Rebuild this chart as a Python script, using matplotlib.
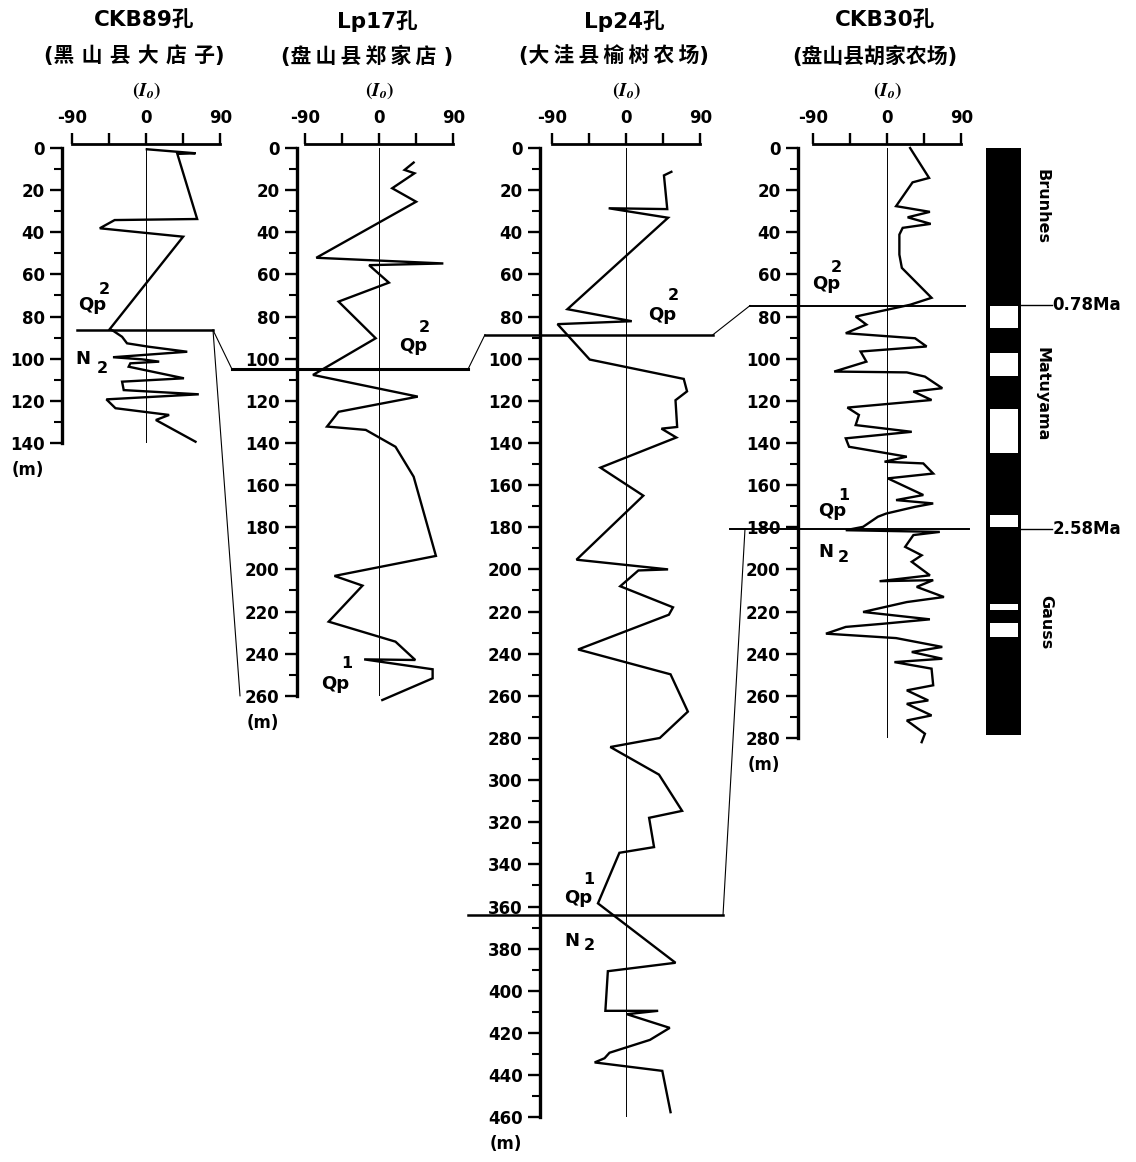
import matplotlib
matplotlib.use("Agg")
import matplotlib.pyplot as plt
from matplotlib.lines import Line2D
from matplotlib.ticker import MultipleLocator

plt.rcParams['font.family'] = ['DejaVu Sans', 'Noto Sans CJK SC']
plt.rcParams['font.weight'] = 'bold'

# ---- data ----
holes = ["CKB89孔", "Lp17孔", "Lp24孔", "CKB30孔"]
places = ["(黑 山 县 大 店 子)", "(盘\u2009山\u2009县\u2009郑\u2009家\u2009店 )",
          "(大\u2009洼\u2009县\u2009榆\u2009树\u2009农\u2009场)", "(盘山县胡家农场)"]
max_depth = [140, 260, 460, 280]

# inclination (deg) against depth (m)
ckb89_depth = [0.6, 2.5, 2.8, 33.7, 34.2, 38.1, 42.1, 86.0, 86.7, 89.6,
               92.7, 94.3, 96.7, 99.3, 100.3, 101.4, 102.2, 103.8, 109.3, 110.9,
               114.9, 116.9, 119.3, 123.5, 126.7, 129.1, 139.4]
ckb89_inc = [1, 60, 38, 62, -38, -56, 45, -44, -40, -29,
             -23, 3, 50, -40, -5, 16, -19, -21, 46, -29,
             -27, 64, -48, -37, 28, 12, 60]

lp17_depth = [6.9, 10.4, 12.0, 19.1, 25.5, 52.1, 54.8, 55.6, 63.9, 72.9,
              90.3, 107.7, 118.0, 125.2, 132.2, 133.8, 141.8, 156.0, 193.6, 203.1,
              207.7, 224.8, 234.3, 243.0, 242.7, 247.4, 251.7, 262.0]
lp17_inc = [42, 31, 43, 16, 45, -76, 78, -12, 12, -49,
            -4, -80, 47, -49, -63, -16, 20, 42, 69, -54,
            -20, -61, 20, 44, -18, 65, 65, 4]

lp24_depth = [11.3, 13.0, 29.0, 28.6, 33.1, 76.5, 82.2, 83.6, 100.4, 109.6,
              115.5, 119.7, 132.4, 133.2, 137.4, 151.7, 165.0, 195.4, 200.0, 200.5,
              208.0, 218.0, 221.5, 238.0, 249.8, 267.5, 280.0, 284.3, 297.4, 314.6,
              317.9, 331.8, 334.5, 358.5, 386.7, 390.7, 409.5, 409.5, 411.1, 417.6,
              423.3, 429.4, 432.0, 434.0, 438.0, 457.6]
lp24_inc = [55, 46, 50, -21, 51, -71, 7, -83, -44, 70,
            74, 60, 62, 43, 61, -31, 21, -60, 51, 15,
            -7, 57, 52, -58, 54, 75, 41, -19, 40, 68,
            28, 34, -8, -34, 60, -22, -25, 39, 1, 53,
            29, -20, -26, -38, 44, 54]

ckb30_depth = [0, 14.2, 16.3, 27.6, 30.3, 32.9, 36.0, 37.9, 41.1, 50.6,
               56.9, 71.1, 74.4, 80.0, 83.8, 87.9, 90.3, 94.2, 96.6, 101.4,
               106.1, 106.5, 108.5, 114.0, 115.6, 119.6, 123.2, 126.7, 131.5, 134.7,
               137.8, 141.8, 146.5, 148.9, 149.7, 154.5, 156.8, 164.7, 167.1, 168.7,
               170.3, 173.5, 175.0, 179.8, 181.4, 182.2, 183.7, 189.3, 193.3, 196.4,
               202.8, 205.6, 205.1, 208.3, 213.1, 215.5, 220.2, 223.7, 225.8, 227.3,
               230.5, 232.6, 236.8, 239.2, 242.4, 244.0, 247.1, 255.0, 257.4, 262.2,
               263.8, 269.3, 271.7, 278.0, 282.0]
ckb30_inc = [28, 51, 31, 11, 52, 25, 53, 19, 15, 15,
             18, 54, 28, -38, -25, -50, 34, 48, -32, -25,
             -64, 24, 46, 67, 32, 54, -48, -34, -38, 30,
             -50, -46, 24, -3, 44, 56, 1, 44, 11, 56,
             34, -1, -11, -29, -50, 64, 32, 22, 42, 30,
             52, -9, 56, 36, 69, 24, -29, 52, -5, -50,
             -74, 11, 67, 30, 67, 9, 54, 56, 24, 50,
             24, 54, 24, 46, 42]

curves = [(ckb89_inc, ckb89_depth), (lp17_inc, lp17_depth),
          (lp24_inc, lp24_depth), (ckb30_inc, ckb30_depth)]

# stratigraphic boundaries (m)
ckb89_qp2_base = 86.4
lp17_qp2_base = 105.0
lp24_qp2_base = 88.6
lp24_qp1_base = 364.2
ckb30_qp2_base = 74.8
ckb30_qp1_base = 180.8

# polarity column of CKB30 (m)
normal_top = [0, 85.6, 108.5, 145.0, 180.5, 219.8, 232.5]
normal_base = [74.5, 96.7, 123.5, 173.8, 216.0, 225.0, 278.6]
reversed_top = [74.5, 96.7, 123.5, 173.8, 216.0, 225.0]
reversed_base = [85.6, 108.5, 145.0, 180.5, 219.8, 232.5]
chrons = ["Brunhes", "Matuyama", "Gauss"]
ages = ["0.78Ma", "2.58Ma"]
age_depth = [74.5, 180.8]

# ---- layout (pixels) ----
W, H = 1136, 1162
DEG = 0.825     # px per degree
MPM = 2.107     # px per metre
TOP = 148
axis_px = [62, 297, 540, 798]
zero_px = [146, 379, 626, 887]

fig = plt.figure(figsize=(W / 100, H / 100), dpi=100)


def put(px, py, s, **kw):
    kw.setdefault('ha', 'center')
    kw.setdefault('va', 'center')
    fig.text(px / W, 1 - py / H, s, **kw)


def inc_at(i, px):
    return (px - zero_px[i]) / DEG


axes = []
for i in range(4):
    left = axis_px[i]
    right = zero_px[i] + 105 * DEG
    bottom = TOP + max_depth[i] * MPM
    ax = fig.add_axes([left / W, 1 - bottom / H, (right - left) / W, (bottom - TOP) / H])
    ax.set_facecolor('none')
    ax.set_xlim(inc_at(i, left), 105)
    ax.set_ylim(max_depth[i], 0)
    for s in ['right', 'bottom']:
        ax.spines[s].set_visible(False)
    ax.spines['left'].set_linewidth(2.4)
    ax.spines['top'].set_linewidth(2.0)
    ax.spines['top'].set_bounds(-90, 90)
    ax.spines['top'].set_position(('outward', 3))
    ax.xaxis.set_ticks_position('top')
    ax.set_xticks([-90, -45, 0, 45, 90])
    ax.set_xticklabels(['-90', '', '0', '', '90'])
    ax.tick_params(axis='x', direction='out', length=8, width=1.7, pad=4, labelsize=12)
    ax.yaxis.set_major_locator(MultipleLocator(20))
    ax.yaxis.set_minor_locator(MultipleLocator(10))
    ax.tick_params(axis='y', which='major', direction='out', length=8.5, width=1.7,
                   pad=4, labelsize=12)
    ax.tick_params(axis='y', which='minor', direction='out', length=6, width=1.5)
    ax.axvline(0, color='black', lw=0.7)
    x, d = curves[i]
    ax.plot(x, d, color='black', lw=1.7, clip_on=False, solid_joinstyle='miter')
    axes.append(ax)

    put(zero_px[i] - 2, 21, holes[i], fontsize=15.5)
    put(zero_px[i] - 12, 56, places[i], fontsize=15)
    put(zero_px[i] + 1, 91, r'$(I_o)$', fontsize=14, math_fontfamily='stix')
    put(axis_px[i] - 34, bottom + 27, '(m)', fontsize=12)

# boundary lines: (panel, depth, left px, right px, width)
bounds = [(0, ckb89_qp2_base, 77, 213, 1.8),
          (1, lp17_qp2_base, 232, 468, 2.2),
          (2, lp24_qp2_base, 485, 713, 1.8),
          (2, lp24_qp1_base, 468, 723, 1.8),
          (3, ckb30_qp2_base, 750, 965, 1.4),
          (3, ckb30_qp1_base, 730, 969, 1.4)]
for i, d, a, b, w in bounds:
    axes[i].plot([inc_at(i, a), inc_at(i, b)], [d, d], color='black', lw=w, clip_on=False)

# correlation lines between holes, taken from each hole's own data scale
links = [((0, ckb89_qp2_base, 213), (1, lp17_qp2_base, 232)),
         ((0, ckb89_qp2_base, 213), (1, max_depth[1], 240)),
         ((1, lp17_qp2_base, 468), (2, lp24_qp2_base, 485)),
         ((2, lp24_qp2_base, 713), (3, ckb30_qp2_base, 750)),
         ((2, lp24_qp1_base, 723), (3, ckb30_qp1_base, 745))]
to_fig = fig.transFigure.inverted()
for (ia, da, pa), (ib, db, pb) in links:
    p1 = to_fig.transform(axes[ia].transData.transform((inc_at(ia, pa), da)))
    p2 = to_fig.transform(axes[ib].transData.transform((inc_at(ib, pb), db)))
    fig.add_artist(Line2D([p1[0], p2[0]], [p1[1], p2[1]], transform=fig.transFigure,
                          color='black', lw=0.8))

# unit labels
qp_font = dict(fontsize=13)
sup_font = dict(fontsize=11.5)
put(92, 305, 'Qp', **qp_font); put(104, 289, '2', **sup_font)
put(83, 359, 'N', **qp_font); put(102, 368, '2', **sup_font)
put(413, 346, 'Qp', **qp_font); put(424, 327, '2', **sup_font)
put(335, 684, 'Qp', **qp_font); put(347, 664, '1', **sup_font)
put(662, 315, 'Qp', **qp_font); put(673, 296, '2', **sup_font)
put(578, 898, 'Qp', **qp_font); put(589, 880, '1', **sup_font)
put(572, 941, 'N', **qp_font); put(589, 946, '2', **sup_font)
put(826, 284, 'Qp', **qp_font); put(836, 267, '2', **sup_font)
put(832, 511, 'Qp', **qp_font); put(844, 495, '1', **sup_font)
put(826, 552, 'N', **qp_font); put(843, 557, '2', **sup_font)

# polarity column
pax = fig.add_axes([986 / W, 1 - (TOP + 280 * MPM) / H, 35 / W, 280 * MPM / H])
pax.set_xlim(0, 1)
pax.set_ylim(280, 0)
pax.axis('off')
for t, b in zip(normal_top, normal_base):
    pax.bar(0.5, b - t, bottom=t, width=1.0, color='black', linewidth=0)
for t, b in zip(reversed_top, reversed_base):
    pax.bar(0.5, b - t, bottom=t, width=1.0, color='black', linewidth=0)
    pax.bar(0.5, b - t - 0.8, bottom=t + 0.4, width=0.8, color='white', linewidth=0)
for name, d in zip(ages, age_depth):
    pax.plot([1.0, 1.88], [d, d], color='black', lw=1.0, clip_on=False)
    pax.text(1.9, d, name, ha='left', va='center', fontsize=12)
for name, d, x in zip(chrons, [28, 117, 225], [1.6, 1.6, 1.72]):
    pax.text(x, d, name, rotation=270, ha='center', va='center', fontsize=11.5)

fig.savefig('out.png', dpi=100)
